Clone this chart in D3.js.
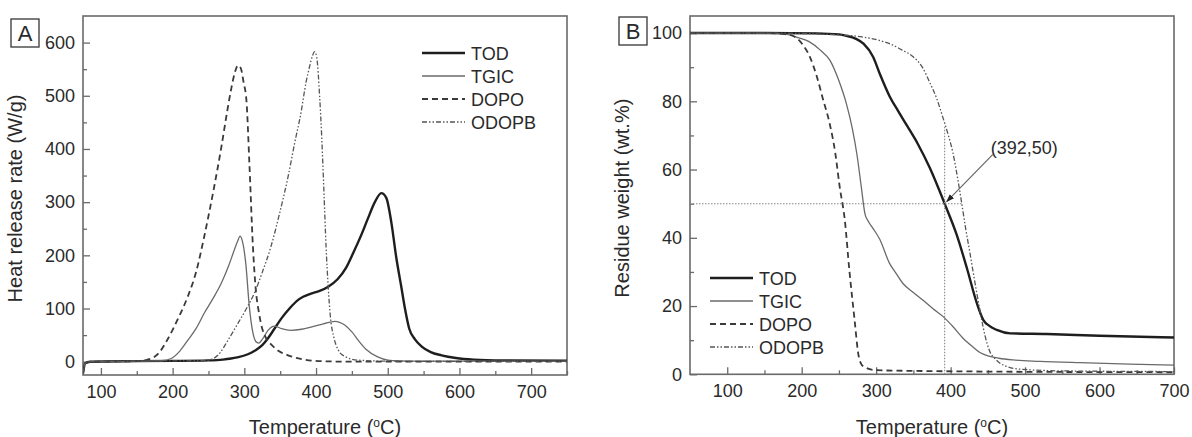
<!DOCTYPE html>
<html><head><meta charset="utf-8">
<script src="https://cdn.jsdelivr.net/npm/d3@7"></script>
<style>
html,body{margin:0;padding:0;background:#fff;}
svg{display:block;font-family:"Liberation Sans",Arial,Helvetica,sans-serif;}
</style></head>
<body>
<svg id="chart" width="1192" height="437"></svg>
<script>
// ---------- DATA ----------
const seriesNames = ["TOD", "TGIC", "DOPO", "ODOPB"];

// Panel A: heat release rate (W/g) vs temperature (°C)
const hrrTOD_T = [75,78,85,150,200,250,270,290,305,315,325,333,342,352,363,373,382,393,405,417,430,442,452,463,472,482,491,498,505,512,519,524,530,538,547,560,575,595,620,660,750];
const hrrTOD   = [-22,-3,0,1,1.5,2.5,4,8,14,21,31,44,62,82,100,114,122,128,133,141,155,177,205,238,268,300,317,308,262,195,140,100,62,42,29,18,12,7,4,2.5,2];
const hrrTGIC_T = [75,78,85,150,185,198,210,221,233,244,256,268,278,286,291,294,297,302,307,312,316,320,326,333,342,352,365,380,393,410,426,440,450,459,470,486,500,515,550,650,750];
const hrrTGIC   = [-22,-3,0,1,2,6,20,40,63,91,118,148,180,210,228,236,228,185,103,54,38,35,44,59,67,62,59,61,65,71,76,69,56,40,23,9,3,1.5,1,1,1];
const hrrDOPO_T = [75,78,85,150,165,180,190,200,210,221,233,244,256,268,276,282,287,291,295,299,303,307,312,316,320,325,330,337,348,361,380,407,450,550,750];
const hrrDOPO   = [-22,-3,0,1,4,15,35,60,88,122,170,235,315,404,470,515,545,557,552,525,490,374,216,135,95,62,45,33,20,12,5,1,0,0,0];
const hrrODOPB_T = [75,78,85,150,200,240,255,263,277,291,303,314,325,337,349,361,370,379,386,391,395,398,401,405,408,411,414,417,420,425,431,440,458,500,600,750];
const hrrODOPB   = [-22,-3,0,1,1.5,2,5,12,40,72,100,129,168,216,278,348,410,468,525,555,575,583,572,499,420,320,216,140,85,45,22,10,3,1,0.5,0.5];

// Panel B: residue weight (wt.%) vs temperature (°C)
const tgaTOD_T = [50,150,220,250,260,273,283,296,305,318,330,341,356,372,392,408,422,435,444,452,462,480,529,600,700];
const tgaTOD   = [100,100,99.9,99.6,99.2,98.3,96.9,93,88,81.5,77,73,67.5,60.5,50,41,31,21,15.9,14.2,13,12,11.8,11.3,10.8];
const tgaTGIC_T = [50,150,180,193,210,225,238,250,260,268,274,280,285,289,295,305,318,327,336,350,363,376,390,403,417,430,440,450,465,484,520,574,640,700];
const tgaTGIC   = [100,100,99.6,98.8,97.5,95,92,86,79.3,72,64.7,55,47,45,43,39.5,32.5,29.5,26.6,24,21.7,19.3,16.9,14,10.5,8,6.3,5.4,4.7,4.2,3.8,3.4,3,2.7];
const tgaDOPO_T = [50,150,180,190,200,211,220,229,237,245,251,258,264,271,276,280,284,290,300,350,450,700];
const tgaDOPO   = [100,100,99.6,99,97,93,87.5,80.3,74,65,55,45,30.5,16,6,3,2.2,1.6,1.2,1,0.8,0.6];
const tgaODOPB_T = [50,150,250,283,305,318,335,350,362,372,381,390,397,403,409,415,420,426,431,435,440,444,449,453,460,466,475,493,550,700];
const tgaODOPB   = [100,100,99.5,98.8,97.8,96.9,95,93,90,85.5,81,75,70,65,58,50,43,35.5,29,24,18,13.5,9,6.5,4.5,3.3,2.3,1.5,1,0.8];

// Axis ticks
const aXTicks = [100,200,300,400,500,600,700];
const aXMinor = [150,250,350,450,550,650,750];
const aYTicks = [0,100,200,300,400,500,600];
const aYMinor = [50,150,250,350,450,550];
const bXTicks = [100,200,300,400,500,600,700];
const bXMinor = [150,250,350,450,550,650];
const bYTicks = [0,20,40,60,80,100];
const bYMinor = [10,30,50,70,90];

// Annotation
const markT = 392, markW = 50;
const markLabel = "(392,50)";
const odopbAt50 = 416;   // temperature where ODOPB reaches 50 %
const odopbAt392 = 73;   // ODOPB residue at 392 °C

// ---------- STYLES ----------
const styles = {
  TOD:   {stroke:"#1e1e1e", width:2.4, dash:null},
  TGIC:  {stroke:"#6a6a6a", width:1.3, dash:null},
  DOPO:  {stroke:"#3a3a3a", width:1.8, dash:"6,4"},
  ODOPB: {stroke:"#555",    width:1.3, dash:"5,2,1.5,2,1.5,2"}
};
const textCol = "#2a2a2a";
const frameCol = "#6a6a6a";

const svg = d3.select("#chart");
const zip = (T, V) => T.map((t, i) => [t, V[i]]);

function panel(opts) {
  const {x, y, id} = opts;
  const [x0, x1] = x.range();
  const [yb, yt] = y.range();
  const g = svg.append("g");

  g.append("clipPath").attr("id", id).append("rect")
    .attr("x", x0).attr("y", yt).attr("width", x1 - x0).attr("height", yb - yt);

  const axStyle = sel => {
    sel.select(".domain").remove();
    sel.selectAll("line").attr("stroke", frameCol).attr("stroke-width", 1.3);
    sel.selectAll("text").attr("fill", textCol).style("font-size", "18px")
      .style("font-family", '"Liberation Sans",Arial,sans-serif');
  };
  g.append("g").attr("transform", `translate(0,${yb})`)
    .call(d3.axisBottom(x).tickValues(opts.xt).tickFormat(d3.format("d")).tickSize(-7).tickPadding(10)).call(axStyle);
  g.append("g").attr("transform", `translate(0,${yb})`)
    .call(d3.axisBottom(x).tickValues(opts.xm).tickFormat("").tickSize(-4)).call(axStyle);
  g.append("g").attr("transform", `translate(${x0},0)`)
    .call(d3.axisLeft(y).tickValues(opts.yt).tickFormat(d3.format("d")).tickSize(-7).tickPadding(8)).call(axStyle);
  g.append("g").attr("transform", `translate(${x0},0)`)
    .call(d3.axisLeft(y).tickValues(opts.ym).tickFormat("").tickSize(-4)).call(axStyle);

  g.append("rect").attr("x", x0).attr("y", yt).attr("width", x1 - x0).attr("height", yb - yt)
    .attr("fill", "none").attr("stroke", frameCol).attr("stroke-width", 1.6);

  const plot = g.append("g").attr("clip-path", `url(#${id})`);
  const line = d3.line().x(d => x(d[0])).y(d => y(d[1])).curve(d3.curveMonotoneX);
  opts.series.forEach(s => {
    const st = styles[s.name];
    plot.append("path").datum(s.data).attr("d", line)
      .attr("fill", "none").attr("stroke", st.stroke).attr("stroke-width", st.width)
      .attr("stroke-dasharray", st.dash).attr("stroke-linejoin", "round");
  });

  g.append("rect").attr("x", opts.box[0]).attr("y", opts.box[1]).attr("width", 28).attr("height", 28)
    .attr("fill", "none").attr("stroke", "#444").attr("stroke-width", 1.4);
  g.append("text").attr("x", opts.box[0] + 14).attr("y", opts.box[1] + 22).attr("text-anchor", "middle")
    .attr("fill", textCol).style("font-size", "22px").text(opts.letter);

  const xt = g.append("text").attr("x", (x0 + x1) / 2).attr("y", 434).attr("text-anchor", "middle")
    .attr("fill", textCol).style("font-size", "20px");
  xt.append("tspan").text("Temperature (");
  xt.append("tspan").attr("dy", -7).style("font-size", "12px").text("o");
  xt.append("tspan").attr("dy", 7).text("C)");
  g.append("text").attr("transform", `translate(${opts.ytx},${(yt + yb) / 2 + 3}) rotate(-90)`)
    .attr("text-anchor", "middle").attr("fill", textCol).style("font-size", "20px").text(opts.ytitle);

  opts.series.forEach((s, i) => {
    const st = styles[s.name];
    const cy = opts.leg[1] + i * 23;
    g.append("line").attr("x1", opts.leg[0]).attr("x2", opts.leg[0] + 43).attr("y1", cy).attr("y2", cy)
      .attr("stroke", st.stroke).attr("stroke-width", st.width).attr("stroke-dasharray", st.dash);
    g.append("text").attr("x", opts.leg[0] + 49).attr("y", cy + 6.5).attr("fill", textCol)
      .style("font-size", "18px").text(s.name);
  });
  return g;
}

// Panel A
const xA = d3.scaleLinear().domain([75, 750]).range([83, 567]);
const yA = d3.scaleLinear().domain([-25, 650]).range([375, 16]);
panel({
  id: "clipA", x: xA, y: yA, xt: aXTicks, xm: aXMinor, yt: aYTicks, ym: aYMinor,
  letter: "A", box: [11, 19], ytx: 22, ytitle: "Heat release rate (W/g)", leg: [422, 53],
  series: [
    {name: "TOD", data: zip(hrrTOD_T, hrrTOD)},
    {name: "TGIC", data: zip(hrrTGIC_T, hrrTGIC)},
    {name: "DOPO", data: zip(hrrDOPO_T, hrrDOPO)},
    {name: "ODOPB", data: zip(hrrODOPB_T, hrrODOPB)}
  ]
});

// Panel B
const xB = d3.scaleLinear().domain([50, 700]).range([690, 1174]);
const yB = d3.scaleLinear().domain([0, 105]).range([374.3, 16]);
const gB = panel({
  id: "clipB", x: xB, y: yB, xt: bXTicks, xm: bXMinor, yt: bYTicks, ym: bYMinor,
  letter: "B", box: [619, 17], ytx: 629, ytitle: "Residue weight (wt.%)", leg: [710, 278],
  series: [
    {name: "TOD", data: zip(tgaTOD_T, tgaTOD)},
    {name: "TGIC", data: zip(tgaTGIC_T, tgaTGIC)},
    {name: "DOPO", data: zip(tgaDOPO_T, tgaDOPO)},
    {name: "ODOPB", data: zip(tgaODOPB_T, tgaODOPB)}
  ]
});

gB.append("line").attr("x1", xB(50)).attr("x2", xB(odopbAt50)).attr("y1", yB(markW)).attr("y2", yB(markW))
  .attr("stroke", "#888").attr("stroke-width", 1.1).attr("stroke-dasharray", "1.5,1.5");
gB.append("line").attr("x1", xB(markT)).attr("x2", xB(markT)).attr("y1", yB(0)).attr("y2", yB(odopbAt392))
  .attr("stroke", "#888").attr("stroke-width", 1.1).attr("stroke-dasharray", "1.5,1.5");

svg.append("defs").append("marker").attr("id", "arrow").attr("viewBox", "0 0 10 10")
  .attr("refX", 9).attr("refY", 5).attr("markerWidth", 7).attr("markerHeight", 7).attr("orient", "auto")
  .append("path").attr("d", "M0,1.5 L10,5 L0,8.5 Z").attr("fill", "#222");
const lx = xB(markT) + 48, ly = yB(markW) - 49;
gB.append("line").attr("x1", lx).attr("y1", ly).attr("x2", xB(markT) + 2).attr("y2", yB(markW) - 2)
  .attr("stroke", "#666").attr("stroke-width", 1.2).attr("marker-end", "url(#arrow)");
gB.append("text").attr("x", lx - 2).attr("y", ly - 1).attr("fill", textCol).style("font-size", "18px").text(markLabel);
</script>
</body></html>
